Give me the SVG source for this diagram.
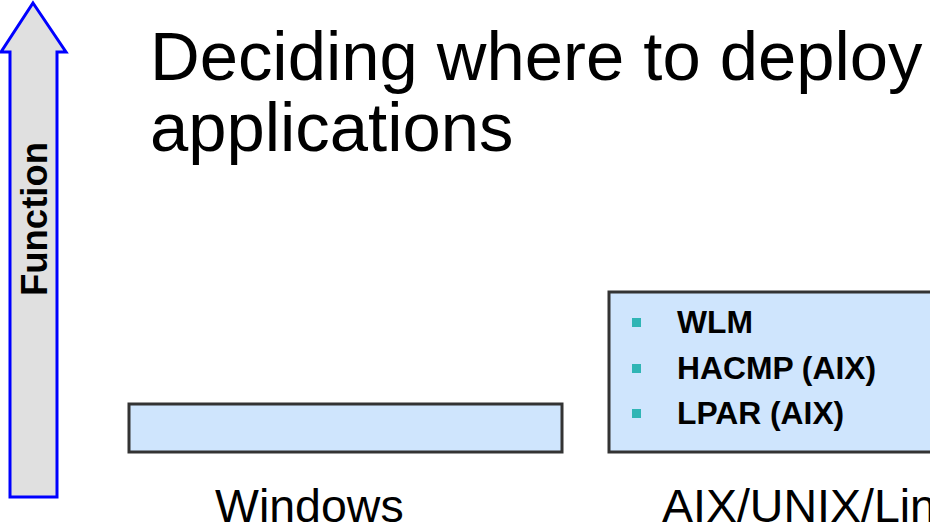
<svg xmlns="http://www.w3.org/2000/svg" width="930" height="532" viewBox="0 0 930 532">
<style>
.t{font-family:"Liberation Sans",Arial,sans-serif;fill:#000}
.title{font-size:68.8px}
.lbl{font-size:46.5px}
.b{font-size:31.8px;font-weight:bold}
.box{fill:#cfe5fd;stroke:#333;stroke-width:3}
.bul{fill:#30b5b5}
</style>
<rect width="930" height="532" fill="#fff"/>
<g id="function-arrow">
<polygon points="33,3 66,52 57,52 57,497 10,497 10,52 1,52" fill="#e0e0e0" stroke="#0000ff" stroke-width="3" stroke-linejoin="miter"/>
<text class="t" font-size="36.5" font-weight="bold" text-anchor="middle" transform="translate(47,219) rotate(-90)">Function</text>
</g>
<g id="title">
<text class="t title" x="150" y="80">Deciding where to deploy</text>
<text class="t title" x="150" y="151">applications</text>
</g>
<g id="windows">
<rect class="box" x="129" y="404" width="433" height="48"/>
<text class="t lbl" x="215" y="522">Windows</text>
</g>
<g id="aix">
<rect class="box" x="609" y="292" width="340" height="160"/>
<rect class="bul" x="632" y="318" width="9" height="9"/>
<text class="t b" x="677" y="333">WLM</text>
<rect class="bul" x="632" y="364" width="9" height="9"/>
<text class="t b" x="677" y="379">HACMP (AIX)</text>
<rect class="bul" x="632" y="409" width="9" height="9"/>
<text class="t b" x="677" y="424">LPAR (AIX)</text>
<text class="t lbl" x="662" y="522">AIX/UNIX/Lin</text>
</g>
<g id="connectors"/>
</svg>
